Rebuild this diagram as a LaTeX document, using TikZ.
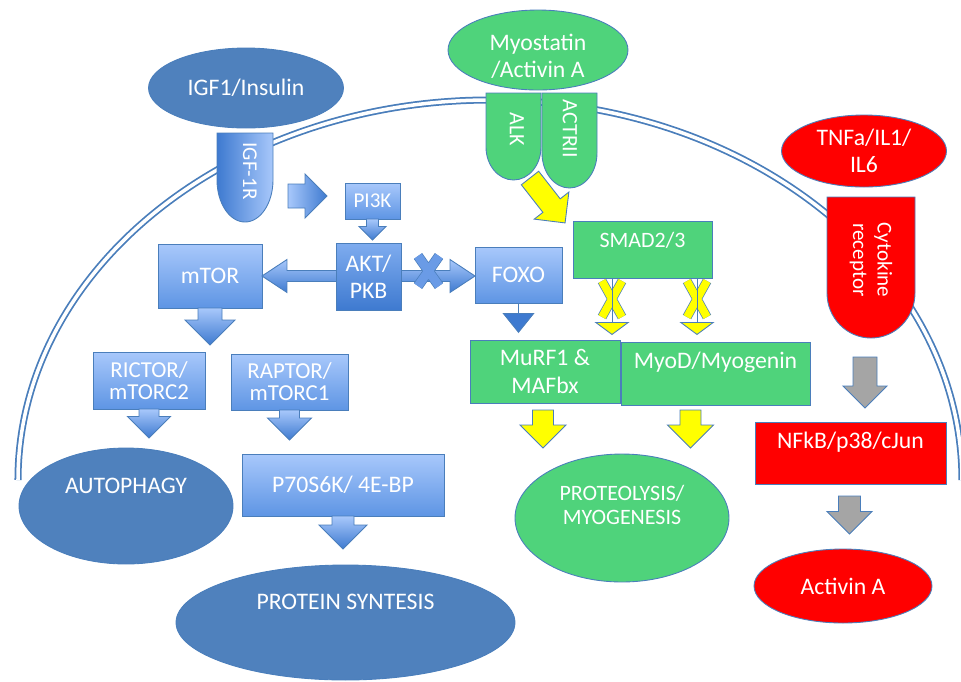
\documentclass[tikz,border=0pt]{standalone}
\usepackage{fontspec}
\setmainfont{Carlito}
\usetikzlibrary{arrows.meta,positioning,calc,shapes.geometric}

\definecolor{dkblue}{HTML}{4F81BD}
\definecolor{rimblue}{HTML}{4A7EBB}
\definecolor{ltop}{HTML}{A8C8FB}
\definecolor{lbot}{HTML}{5E95E4}
\definecolor{dtop}{HTML}{7FACEF}
\definecolor{dbot}{HTML}{3E7AD0}
\definecolor{xblue}{HTML}{6A9BE6}
\definecolor{mgreen}{HTML}{4FD37B}
\definecolor{mred}{HTML}{FF0000}
\definecolor{myellow}{HTML}{FFFF00}
\definecolor{mgray}{HTML}{A5A5A5}

\begin{document}
\begin{tikzpicture}[
  x=0.02cm,
  y=-0.02cm,
  inner sep=0pt,
  outer sep=0pt,
  every node/.append style={
    text=white,
    align=center,
    font=\fontsize{13.5pt}{15.5pt}\selectfont,
  },
  smaller/.style={font=\fontsize{12pt}{14pt}\selectfont},
  medium/.style={font=\fontsize{12.5pt}{14pt}\selectfont},
  oval/.style={ellipse, draw=rimblue, line width=0.5pt},
  box/.style={rectangle, draw=rimblue, line width=0.5pt},
  light/.style={box, top color=ltop, bottom color=lbot},
  dark/.style={box, top color=dtop, bottom color=dbot},
  flat/.style={box, fill=#1},
  rot/.style={rotate=-90},
  membrane/.style={
    draw=rimblue,
    line width=1pt,
    double=white,
    double distance=2pt,
  },
]
  \useasboundingbox (0,0) rectangle (961,681);

  % cell membrane
  \draw[membrane]
    (18,480) arc[start angle=180, end angle=360, x radius=472, y radius=380]
  ;

  % ligands
  \node[oval, fill=dkblue, minimum width=3.9cm, minimum height=1.6cm]
    (igf) at (246,88) {IGF1/Insulin};
  \node[oval, fill=mgreen, minimum width=3.6cm, minimum height=1.6cm]
    (myo) at (538,50) {};
  \node (myot) at ($(myo)+(0,6)$) {Myostatin\\/Activin A};
  \node[oval, fill=mred, minimum width=3.3cm, minimum height=1.44cm]
    (tnf) at (864,151) {TNFa/IL1/\\IL6};

  % receptors
  \def\Rcpt#1#2#3#4#5#6{
    \draw[draw=rimblue, line width=0.5pt, #1]
      (#2,#4) -- (#3,#4) -- (#3,#5)
      arc[start angle=0, end angle=180, x radius={(#3-#2)/2}, y radius=#6]
      -- cycle
    ;%
  }
  \Rcpt{left color=dbot, right color=ltop}{217}{273}{133}{180}{42}
  \Rcpt{fill=mgreen}{486}{541}{93}{147}{33}
  \Rcpt{fill=mgreen}{542}{597}{93}{153}{35}
  \Rcpt{fill=mred}{827}{915}{197}{293}{45}
  \node[rot, smaller] (igfr) at (250,171) {IGF-1R};
  \node[rot, medium] (alk) at (517,129) {ALK};
  \node[rot, medium] (actr) at (570,129) {ACTRII};
  \node[rot, smaller] (cyto) at (871,260) {Cytokine\\receptor};

  % signalling boxes
  \node[light, smaller, minimum width=1.1cm, minimum height=0.72cm]
    (pik) at (372.5,201) {PI3K};
  \node[light, minimum width=2.08cm, minimum height=1.28cm]
    (mtor) at (210,276) {mTOR};
  \node[light, minimum width=1.74cm, minimum height=1.12cm]
    (foxo) at (518.5,275) {FOXO};
  \coordinate (fw) at (foxo.west |- mtor.east);
  \draw[box, top color=ltop, bottom color=dbot]
    (mtor.east) -- ++(25,-16.5) -- ++(0,11) -- ($(fw)+(-25,-5.5)$)
    -- ++(0,-11) -- (fw) -- ++(-25,16.5) -- ++(0,-11)
    -- ($(mtor.east)+(25,5.5)$) -- ++(0,11) -- cycle
  ;
  \node[dark, minimum width=1.3cm, minimum height=1.34cm]
    (akt) at (368.5,276.5) {AKT/\\PKB};
  \draw[draw=rimblue, line width=0.4pt, double=xblue, double distance=5pt]
    (418,256) -- (439,286) (439,256) -- (418,286)
  ;

  \node[flat=mgreen, minimum width=2.78cm, minimum height=1.14cm]
    (smad) at (642.5,249.5) {};
  \node[medium] (smadt) at ($(smad.north)+(0,19)$) {SMAD2/3};
  \node[flat=mgreen, minimum width=3cm, minimum height=1.26cm]
    (murf) at (545,371.5) {MuRF1 \&\\MAFbx};
  \node[flat=mgreen, minimum width=3.78cm, minimum height=1.26cm]
    (myod) at (715.5,373.5) {};
  \node (myodt) at ($(myod.north)+(0,20)$) {MyoD/Myogenin};

  \node[light, minimum width=2.24cm, minimum height=1.14cm,
    font=\fontsize{13pt}{12.5pt}\selectfont]
    (rictor) at (149,380.5) {RICTOR/\\mTORC2};
  \node[light, minimum width=2.34cm, minimum height=1.12cm,
    font=\fontsize{13pt}{12.5pt}\selectfont]
    (raptor) at (289.5,382) {RAPTOR/\\mTORC1};
  \node[light, minimum width=4.04cm, minimum height=1.24cm]
    (p70) at (343,485) {P70S6K/ 4E-BP};

  % outcomes
  \node[oval, fill=dkblue, minimum width=4.28cm, minimum height=2.32cm]
    (auto) at (126,506) {};
  \node (autot) at ($(auto.north)+(0,38)$) {AUTOPHAGY};
  \node[oval, fill=dkblue, minimum width=6.78cm, minimum height=2.3cm]
    (prot) at (345.5,622.5) {};
  \node (prott) at ($(prot.north)+(0,37)$) {PROTEIN SYNTESIS};
  \node[oval, fill=mgreen, minimum width=4.28cm, minimum height=2.56cm]
    (proteo) at (622,518) {};
  \node[medium] (proteot) at ($(proteo.north)+(0,51)$)
    {PROTEOLYSIS/\\MYOGENESIS};
  \node[flat=mred, minimum width=3.82cm, minimum height=1.24cm]
    (nfkb) at (850.5,453) {};
  \node (nfkbt) at ($(nfkb.north)+(0,20)$) {NFkB/p38/cJun};
  \node[oval, fill=mred, minimum width=3.56cm, minimum height=1.48cm]
    (actA) at (843,586) {Activin A};

  % thin arrows and inhibitions
  \draw[
    rimblue,
    line width=0.5pt,
    -{Triangle[width=0.64cm, length=0.4cm, fill=dbot]},
    shorten >=0.14cm,
  ]
    (foxo.south) -- (foxo.south |- murf.north)
  ;
  \foreach \xx in {612,697} {
    \draw[draw=rimblue, line width=0.4pt, double=myellow, double distance=4.5pt]
      (\xx-10,281) -- (\xx+10,317) (\xx+10,281) -- (\xx-10,317)
    ;
    \draw[
      rimblue,
      line width=0.5pt,
      -{Triangle[width=0.7cm, length=0.26cm, fill=myellow]},
      shorten >=0.1cm,
    ]
      (\xx,0 |- smad.south) -- (\xx,0 |- murf.north)
    ;
  }

  % block arrows
  \begin{scope}[line width=0.5pt, draw=rimblue]
    \def\BlkArrow#1#2#3#4#5#6{
      \draw[draw=rimblue, #1, shift={#2}, rotate=#3]
        (0,-#5) -- (#4-#6,-#5) -- (#4-#6,-#6) -- (#4,0)
        -- (#4-#6,#6) -- (#4-#6,#5) -- (0,#5) -- cycle
      ;%
    }
    \BlkArrow{left color=ltop, right color=dbot}{(288,196)}{0}{39}{12}{22}
    \BlkArrow{top color=ltop, bottom color=dbot}{(pik.south)}{-90}{21}{6}{13.5}
    \BlkArrow{top color=ltop, bottom color=dbot}{(mtor.south)}{-90}{37}{12}{25}
    \BlkArrow{top color=ltop, bottom color=dbot}{(rictor.south)}{-90}{29}{10}{21.5}
    \BlkArrow{top color=ltop, bottom color=dbot}{(raptor.south)}{-90}{30}{10}{22}
    \BlkArrow{top color=ltop, bottom color=dbot}{(p70.south)}{-90}{33}{11}{24}
    \BlkArrow{fill=myellow}{(530,178)}{-52}{57}{11}{22}
    \BlkArrow{fill=myellow}{($(murf.south)+(-2,7)$)}{-90}{38}{10.5}{23}
    \BlkArrow{fill=myellow}{($(myod.south)+(-25,5)$)}{-90}{38}{10.5}{23}
    \BlkArrow{fill=mgray}{(865,357)}{-90}{51}{12}{22}
    \BlkArrow{fill=mgray}{($(nfkb.south)+(-1,12)$)}{-90}{38}{11}{22.5}
  \end{scope}
\end{tikzpicture}
\end{document}
